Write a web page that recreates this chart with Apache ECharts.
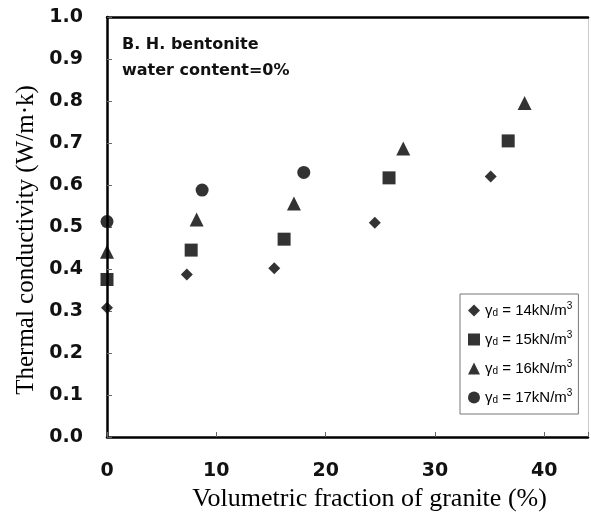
<!DOCTYPE html>
<html>
<head>
<meta charset="utf-8">
<script src="https://cdn.jsdelivr.net/npm/echarts@6/dist/echarts.min.js"></script>
<style>
html,body{margin:0;padding:0;background:#fff;}
#c{width:591px;height:524px;}
</style>
</head>
<body>
<div id="c"></div>
<script>
// Data
var densities = ['14', '15', '16', '17'];
var symbols = ['diamond', 'rect', 'triangle', 'circle'];
var symbolSizes = [12, 13, 14, 13];

var x14 = [0, 7.3, 15.3, 24.5, 35.1];
var y14 = [0.308, 0.387, 0.402, 0.510, 0.620];
var x15 = [0, 7.7, 16.2, 25.8, 36.7];
var y15 = [0.375, 0.445, 0.471, 0.617, 0.705];
var x16 = [0, 8.2, 17.1, 27.1, 38.2];
var y16 = [0.441, 0.518, 0.556, 0.687, 0.795];
var x17 = [0, 8.7, 18.0];
var y17 = [0.513, 0.588, 0.630];

var xTicks = [0, 10, 20, 30, 40];
var yTicks = [0.0, 0.1, 0.2, 0.3, 0.4, 0.5, 0.6, 0.7, 0.8, 0.9, 1.0];

var xs = [x14, x15, x16, x17];
var ys = [y14, y15, y16, y17];

function pairs(a, b) { return a.map(function (v, i) { return [v, b[i]]; }); }

var series = densities.map(function (d, i) {
  return {
    name: d,
    type: 'scatter',
    symbol: symbols[i],
    symbolSize: symbolSizes[i],
    clip: false,
    itemStyle: { color: '#000' },
    data: pairs(xs[i], ys[i])
  };
});

var chart = echarts.init(document.getElementById('c'), null, { renderer: 'canvas' });
chart.setOption({
  animation: false,
  backgroundColor: '#fff',
  grid: { left: 107, top: 17, right: 1, bottom: 87 },
  xAxis: [{
    type: 'value', min: 0, max: 44, interval: 10,
    name: 'Volumetric fraction of granite (%)',
    nameLocation: 'middle', nameGap: 47,
    nameTextStyle: { fontFamily: 'Liberation Serif', fontSize: 26, color: '#000', padding: [0, 0, 0, 44] },
    axisLine: { show: true, onZero: false, lineStyle: { color: '#000', width: 2.5 } },
    axisTick: { show: true, inside: true, length: 5, lineStyle: { color: '#666', width: 1 } },
    axisLabel: {
      margin: 25, fontFamily: 'DejaVu Sans', fontWeight: 'bold', fontSize: 19, color: '#111',
      formatter: function (v) { return xTicks.indexOf(v) >= 0 ? String(v) : ''; }
    },
    splitLine: { show: false }
  }, {
    type: 'value', min: 0, max: 44, position: 'top',
    axisLine: { show: true, onZero: false, lineStyle: { color: '#000', width: 2.5 } },
    axisTick: { show: false }, axisLabel: { show: false }, splitLine: { show: false }
  }],
  yAxis: [{
    type: 'value', min: 0, max: 1, interval: 0.1,
    name: 'Thermal conductivity (W/m·k)',
    nameLocation: 'middle', nameGap: 67,
    nameTextStyle: { fontFamily: 'Liberation Serif', fontSize: 25, color: '#000', padding: [0, 26, 0, 0] },
    axisLine: { show: true, onZero: false, lineStyle: { color: '#000', width: 2.5 } },
    axisTick: { show: true, inside: true, length: 5, lineStyle: { color: '#666', width: 1 } },
    axisLabel: {
      margin: 24, fontFamily: 'DejaVu Sans', fontWeight: 'bold', fontSize: 19, color: '#111',
      formatter: function (v) { return v.toFixed(1); }
    },
    splitLine: { show: false }
  }, {
    type: 'value', min: 0, max: 1, position: 'right',
    axisLine: { show: true, onZero: false, lineStyle: { color: '#ccc', width: 1 } },
    axisTick: { show: false }, axisLabel: { show: false }, splitLine: { show: false }
  }],
  legend: {
    orient: 'vertical',
    left: 460, top: 294,
    padding: [7, 6, 7, 8],
    itemGap: 10,
    itemWidth: 12, itemHeight: 12,
    borderColor: '#777', borderWidth: 1,
    data: densities,
    formatter: function (name) {
      return '{g|γ}{sub|d}{g| = ' + name + 'kN/m}{sup|3}';
    },
    textStyle: {
      fontFamily: 'Liberation Sans', fontSize: 15, color: '#000',
      rich: {
        g: { fontFamily: 'Liberation Sans', fontSize: 15, color: '#000', lineHeight: 18 },
        sub: { fontFamily: 'Liberation Sans', fontSize: 10, color: '#000', padding: [6, 0, 0, 0], lineHeight: 18 },
        sup: { fontFamily: 'Liberation Sans', fontSize: 10, color: '#000', padding: [0, 0, 9, 0], lineHeight: 18 }
      }
    }
  },
  graphic: [{
    type: 'text', left: 122, top: 32,
    style: {
      text: 'B. H. bentonite\nwater content=0%',
      font: 'bold 16px "DejaVu Sans"', fill: '#111', lineHeight: 26
    }
  }],
  series: series
});
</script>
</body>
</html>
